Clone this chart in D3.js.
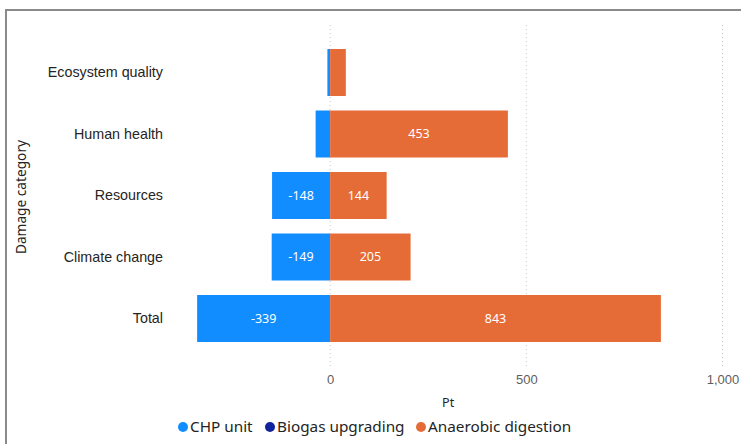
<!DOCTYPE html>
<html>
<head>
<meta charset="utf-8">
<script src="https://cdn.jsdelivr.net/npm/d3@7"></script>
<style>
  html, body { margin: 0; padding: 0; background: #fff; }
  svg { display: block; font-family: "Segoe UI", "Noto Sans", "Open Sans", sans-serif; }
</style>
</head>
<body>
<svg id="chart" width="741" height="444"></svg>
<script>
const categories = ["Ecosystem quality", "Human health", "Resources", "Climate change", "Total"];
const seriesNames = ["CHP unit", "Biogas upgrading", "Anaerobic digestion"];
const chpUnit = [-7, -37, -148, -149, -339];
const biogasUpgrading = [0, 0, 0, 0, 0];
const anaerobicDigestion = [40, 453, 144, 205, 843];
const xTicks = [0, 500, 1000];
const xTickLabels = ["0", "500", "1,000"];
const colors = ["#118DFF", "#12239E", "#E66C37"];

const rows = categories.map((c, i) => ({
  category: c,
  "CHP unit": chpUnit[i],
  "Biogas upgrading": biogasUpgrading[i],
  "Anaerobic digestion": anaerobicDigestion[i]
}));

const svg = d3.select("#chart");

// outer frame
svg.append("rect")
  .attr("x", 6).attr("y", 10)
  .attr("width", 800).attr("height", 500)
  .attr("fill", "none").attr("stroke", "#8a8a8a").attr("stroke-width", 2);

const x = d3.scaleLinear().domain([-400, 1000]).range([173.2, 722.5]);
const y = d3.scaleBand().domain(categories).range([41.75, 349.25])
  .paddingInner(0.236).paddingOuter(0.118);

// gridlines
svg.append("g").selectAll("line").data(xTicks).join("line")
  .attr("x1", d => x(d)).attr("x2", d => x(d))
  .attr("y1", 25).attr("y2", 368)
  .attr("stroke", "#c8c8c8").attr("stroke-width", 1)
  .attr("stroke-dasharray", "1,3");

// x axis labels
const xAxis = d3.axisBottom(x).tickValues(xTicks)
  .tickFormat((d, i) => xTickLabels[i]).tickSize(0).tickPadding(0);
const gx = svg.append("g").attr("transform", "translate(0,375)").call(xAxis);
gx.select(".domain").remove();
gx.selectAll("text").attr("fill", "#605E5C").attr("font-size", 13)
  .style("font-family", "inherit");

svg.append("text").attr("x", x(0) + 118).attr("y", 407)
  .attr("text-anchor", "middle").attr("font-size", 12.5).attr("fill", "#252423")
  .text("Pt");

// y axis labels
const yAxis = d3.axisLeft(y).tickSize(0).tickPadding(0);
const gy = svg.append("g").attr("transform", "translate(163,0)").call(yAxis);
gy.select(".domain").remove();
gy.selectAll("text").attr("fill", "#252423").attr("font-size", 14.3)
  .style("font-family", "inherit");

svg.append("text")
  .attr("transform", "translate(26,197) rotate(-90)")
  .attr("text-anchor", "middle").attr("font-size", 13.7).attr("fill", "#252423")
  .text("Damage category");

// stacked bars
const stack = d3.stack().keys(seriesNames).offset(d3.stackOffsetDiverging);
const stacked = stack(rows);

const layers = svg.append("g").selectAll("g").data(stacked).join("g")
  .attr("fill", (d, i) => colors[i]);

layers.selectAll("rect").data(d => d).join("rect")
  .attr("x", d => x(Math.min(d[0], d[1])))
  .attr("width", d => Math.abs(x(d[1]) - x(d[0])))
  .attr("y", d => y(d.data.category))
  .attr("height", y.bandwidth());

// data labels
layers.selectAll("text").data(d => d.map(v => ({v, key: d.key}))).join("text")
  .filter(d => Math.abs(x(d.v[1]) - x(d.v[0])) > 40)
  .attr("x", d => (x(d.v[0]) + x(d.v[1])) / 2)
  .attr("y", d => y(d.v.data.category) + y.bandwidth() / 2)
  .attr("dy", "0.35em")
  .attr("text-anchor", "middle").attr("font-size", 12.5).attr("fill", "#fff")
  .text(d => String(d.v.data[d.key]));

// legend
const legendX = [183, 270, 421];
const lg = svg.append("g").selectAll("g").data(seriesNames).join("g")
  .attr("transform", (d, i) => `translate(${legendX[i]},427)`);
lg.append("circle").attr("r", 5).attr("fill", (d, i) => colors[i]);
lg.append("text").attr("x", 7).attr("dy", "0.35em")
  .attr("font-size", 15.3).attr("fill", "#252423").text(d => d);
</script>
</body>
</html>
